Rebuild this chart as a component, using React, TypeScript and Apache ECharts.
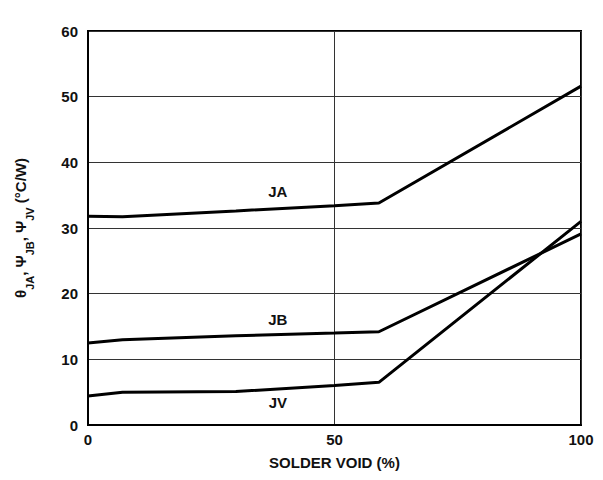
import React, { useEffect, useRef } from "react";
import * as echarts from "echarts";

const voidPct = [0, 7, 30, 50, 59, 100];
const jaValues = [31.8, 31.7, 32.6, 33.4, 33.8, 51.6];
const jbValues = [12.5, 13.0, 13.6, 14.0, 14.2, 29.1];
const jvValues = [4.4, 5.0, 5.1, 6.0, 6.5, 31.0];
const seriesNames = ["JA", "JB", "JV"];
const labelCoords: [number, number][] = [
  [38.5, 35.5],
  [38.5, 16.0],
  [38.5, 3.4],
];

const FONT = "Liberation Sans";

export default function App() {
  const ref = useRef<HTMLDivElement>(null);
  useEffect(() => {
    if (!ref.current) return;
    const chart = echarts.init(ref.current, undefined, { renderer: "svg" });
    const all = [jaValues, jbValues, jvValues];
    chart.setOption({
      animation: false,
      backgroundColor: "#fff",
      grid: {
        left: 88,
        right: 22,
        top: 31,
        bottom: 55,
        show: true,
        borderColor: "#000",
        borderWidth: 2,
      },
      xAxis: {
        type: "value",
        min: 0,
        max: 100,
        interval: 50,
        name: "SOLDER VOID (%)",
        nameLocation: "middle",
        nameGap: 30,
        nameTextStyle: { fontFamily: FONT, fontWeight: "bold", fontSize: 15, color: "#111" },
        axisLine: { show: true, lineStyle: { color: "#000", width: 2 } },
        axisTick: { show: false },
        axisLabel: { fontFamily: FONT, fontWeight: "bold", fontSize: 15, color: "#111", margin: 7 },
        splitLine: { show: true, lineStyle: { color: "#333", width: 1 } },
      },
      yAxis: {
        type: "value",
        min: 0,
        max: 60,
        interval: 10,
        name:
          "{m|θ}{s|JA}{m|, Ψ}{s|JB}{m|, Ψ}{s|JV}{m| (°C/W)}",
        nameLocation: "middle",
        nameRotate: 90,
        nameGap: 53,
        nameTextStyle: {
          fontFamily: FONT,
          fontWeight: "bold",
          color: "#111",
          rich: {
            m: { fontFamily: FONT, fontWeight: "bold", fontSize: 15, color: "#111", lineHeight: 22, verticalAlign: "top" },
            s: { fontFamily: FONT, fontWeight: "bold", fontSize: 11, color: "#111", lineHeight: 22, verticalAlign: "bottom" },
          },
        },
        axisLine: { show: true, lineStyle: { color: "#000", width: 2 } },
        axisTick: { show: false },
        axisLabel: { fontFamily: FONT, fontWeight: "bold", fontSize: 15, color: "#111", margin: 10 },
        splitLine: { show: true, lineStyle: { color: "#333", width: 1 } },
      },
      series: all.map((vals, i) => ({
        name: seriesNames[i],
        type: "line",
        data: voidPct.map((x, j) => [x, vals[j]]),
        symbol: "none",
        lineStyle: { color: "#000", width: 3 },
        z: 5,
        markPoint: {
          symbol: "circle",
          symbolSize: 0,
          data: [
            {
              coord: labelCoords[i],
              label: {
                show: true,
                formatter: seriesNames[i],
                fontFamily: FONT,
                fontWeight: "bold",
                fontSize: 15,
                color: "#111",
                position: "inside",
              },
            },
          ],
        },
      })),
    });
    return () => chart.dispose();
  }, []);
  return (
    <div
      ref={ref}
      style={{ position: "fixed", left: 0, top: 0, width: 603, height: 480 }}
    />
  );
}
